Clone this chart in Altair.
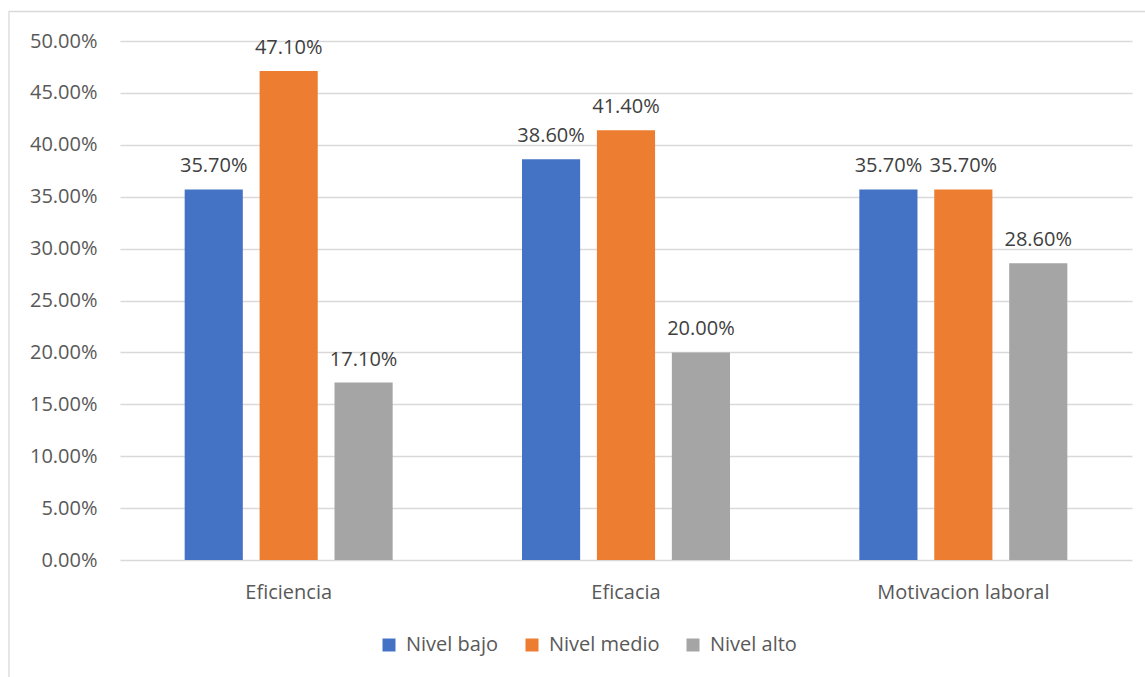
import altair as alt
import pandas as pd

# Chart data
categories = ["Eficiencia", "Eficacia", "Motivacion laboral"]
levels = ["Nivel bajo", "Nivel medio", "Nivel alto"]
nivel_bajo = [0.357, 0.386, 0.357]
nivel_medio = [0.471, 0.414, 0.357]
nivel_alto = [0.171, 0.200, 0.286]
colors = ["#4472C4", "#ED7D31", "#A5A5A5"]
y_ticks = [0.0, 0.05, 0.10, 0.15, 0.20, 0.25, 0.30, 0.35, 0.40, 0.45, 0.50]

rows = []
for i, cat in enumerate(categories):
    for lvl, series in zip(levels, [nivel_bajo, nivel_medio, nivel_alto]):
        rows.append({"Categoria": cat, "Nivel": lvl, "Valor": series[i]})
df = pd.DataFrame(rows)

FONT = "Open Sans"
AXIS_GREY = "#595959"
GRID = "#D9D9D9"

x_enc = alt.X(
    "Categoria:N",
    sort=categories,
    title=None,
    scale=alt.Scale(paddingInner=0.3834, paddingOuter=0.1917),
    axis=alt.Axis(
        labelAngle=0,
        labelFont=FONT,
        labelFontSize=20,
        labelColor=AXIS_GREY,
        labelBaseline="alphabetic",
        labelPadding=38,
        ticks=False,
        tickSize=0,
        domain=False,
        grid=False,
        labelLimit=400,
    ),
)
xo_enc = alt.XOffset(
    "Nivel:N", sort=levels, scale=alt.Scale(paddingInner=0.224, paddingOuter=0)
)
y_enc = alt.Y(
    "Valor:Q",
    title=None,
    scale=alt.Scale(domain=[0, 0.5], nice=False),
    axis=alt.Axis(
        values=y_ticks,
        format=".2%",
        labelFont=FONT,
        labelFontSize=20,
        labelColor=AXIS_GREY,
        labelPadding=23,
        ticks=False,
        tickSize=0,
        domain=False,
        grid=True,
        gridColor=GRID,
        gridWidth=1.5,
    ),
)

# Outer chart frame
frame = (
    alt.Chart(pd.DataFrame({"k": [0]}))
    .mark_rect(fill="transparent", stroke=GRID, strokeWidth=1.3)
    .encode(
        x=alt.value(-111),
        x2=alt.value(1100),
        y=alt.value(-29.5),
        y2=alt.value(700),
    )
)

bars = (
    alt.Chart(df)
    .mark_bar()
    .encode(
        x=x_enc,
        xOffset=xo_enc,
        y=y_enc,
        color=alt.Color(
            "Nivel:N",
            sort=levels,
            scale=alt.Scale(domain=levels, range=colors),
            legend=alt.Legend(
                title=None,
                orient="none",
                direction="horizontal",
                legendX=259,
                legendY=594,
                symbolType="square",
                symbolSize=169,
                symbolStrokeWidth=0,
                labelFont=FONT,
                labelFontSize=20,
                labelColor=AXIS_GREY,
                labelOffset=7,
                columnPadding=23,
                padding=0,
                labelLimit=300,
            ),
        ),
    )
)

labels = (
    alt.Chart(df)
    .mark_text(
        dy=-17,
        baseline="alphabetic",
        fontSize=20,
        font=FONT,
        color="#404040",
    )
    .encode(
        x=x_enc,
        xOffset=xo_enc,
        y=y_enc,
        text=alt.Text("Valor:Q", format=".2%"),
    )
)

chart = (
    alt.layer(frame, bars, labels)
    .properties(
        width=1012,
        height=519,
        autosize=alt.AutoSizeParams(type="none"),
        padding={"left": 120, "top": 41, "right": 13, "bottom": 117},
        background="white",
    )
    .configure_view(strokeWidth=0)
)

chart.save("out.html", embed_options={"renderer": "svg", "actions": False})
